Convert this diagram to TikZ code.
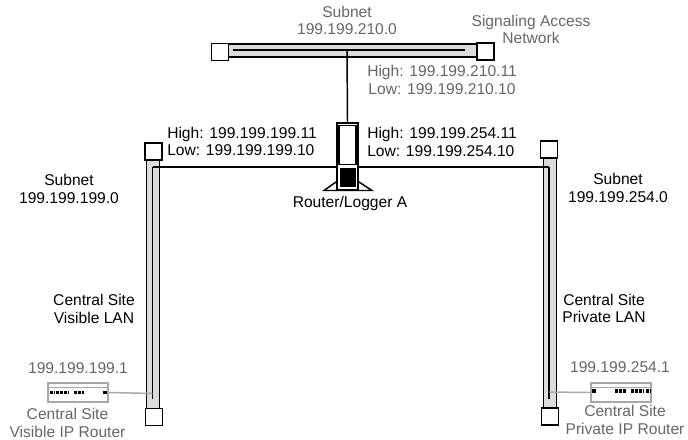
\documentclass[tikz,border=0pt]{standalone}
\usepackage{fontspec}
\setmainfont{Liberation Sans}
\usepackage{xcolor}
\usetikzlibrary{positioning}
\definecolor{labelgray}{HTML}{666666}
\definecolor{busgray}{HTML}{DCDCDC}
\definecolor{routergray}{HTML}{A8A8A8}

\begin{document}
\begin{tikzpicture}[
    x=0.75pt, y=-0.75pt,
    every node/.style={font=\fontsize{11.7}{13.2}\selectfont, inner sep=0pt},
    darklabel/.style={align=center, text=black},
    greylabel/.style={align=center, text=labelgray},
    addrlabel/.style={align=left, text=black},
    endcap/.style={draw=black, fill=white, line width=1.2pt, minimum width=13pt, minimum height=12.5pt},
    hbus/.style={draw=black, fill=busgray, line width=1.2pt, minimum height=9.5pt},
    vbus/.style={draw=black, fill=busgray, line width=1.2pt, minimum width=10pt},
    tower/.style={draw=black, fill=white, line width=1.5pt, minimum width=15.5pt},
    iprouter/.style={draw=routergray, fill=white, line width=1.2pt, minimum width=45pt, minimum height=14pt},
    wire/.style={draw=black, line width=1.1pt},
    greywire/.style={draw=routergray, line width=1.1pt},
    portrow/.style={line width=2.6pt, dash pattern=on 2.4pt off 0.5pt},
]
\useasboundingbox (0,0) rectangle (688,439);

% Bus bars
\node[hbus, minimum width=186.75pt] (topbus)   at (352.5,50.5) {};
\node[vbus, minimum height=188pt]   (leftbus)  at (153,283)    {};
\node[vbus, minimum height=188pt]   (rightbus) at (550,283)    {};

% Lines running inside the bus bars
\coordinate (topstart)  at (233,50);
\coordinate (topend)    at (465,50);
\coordinate (toptap)    at (347,50);
\coordinate (leftjoin)  at (152.5,167);
\coordinate (leftend)   at (152.5,399);
\coordinate (lefttap)   at (152.5,393.5);
\coordinate (rightjoin) at (549,167);
\coordinate (rightend)  at (549,399);
\coordinate (righttap)  at (549,392);
\draw[wire] (topstart)  -- (topend);
\draw[wire] (leftjoin)  -- (leftend);
\draw[wire] (rightjoin) -- (rightend);
\draw[wire] (leftjoin)  -- (rightjoin);

% End caps
\node[endcap] (topleftcap)     at (220,52)    {};
\node[endcap] (toprightcap)    at (485.5,51.5) {};
\node[endcap] (lefttopcap)     at (153.5,151.5) {};
\node[endcap] (leftbottomcap)  at (154,417)   {};
\node[endcap] (righttopcap)    at (549,149.5) {};
\node[endcap] (rightbottomcap) at (550,416.5) {};

% Router/Logger tower
\coordinate (footleft)  at (324,190.5);
\coordinate (footright) at (372,190.5);
\draw[wire, fill=white] (336,182) -- (footleft) -- (footright) -- (359,182) -- cycle;
\node[tower, minimum height=50pt] (towerbody) at (347.5,156.5) {};
\node[draw=black, fill=white, line width=1.2pt, minimum width=13pt, minimum height=29.5pt] (towertop) at (347.5,145) {};
\node[fill=black, minimum width=12pt, minimum height=14pt] (towerbottom) at (347.5,177.5) {};
\draw[wire] (toptap) -- (towerbody.north);

% IP routers
\node[iprouter] (leftrouter)  at (78,392.5)  {};
\node[iprouter] (rightrouter) at (621,392.5) {};
\draw[greywire] (leftrouter.east) -- (lefttap);
\draw[greywire] (rightrouter.west) -- (righttap);
\draw[greywire, line width=0.5pt] (48,387) -- (108,387);
\draw[greywire, line width=0.5pt] (591,387) -- (651,387);
\draw[portrow] (50,392.5) -- (54,392.5) (56,392.5) -- (69,392.5) (74,392.5) -- (84,392.5);
\draw[portrow] (615,391) -- (626,391) (631,391) -- (643,391) (646,391) -- (650,391);
\draw[line width=2.6pt] (103,392.5) -- (107,392.5);
\draw[line width=2.6pt] (592,391) -- (596,391);

% Labels
\node[greylabel] (topsubnet) at (347,20.5) {Subnet\\199.199.210.0};
\node[greylabel] (signaling) at (531,29.5) {Signaling Access\\Network};
\node[greylabel, anchor=west] (topaddr) at (367,80) {High: 199.199.210.11\\[0.6pt]Low: 199.199.210.10};
\node[addrlabel, anchor=west] (leftaddr)  at (167,141.5) {High: 199.199.199.11\\Low: 199.199.199.10};
\node[addrlabel, anchor=west] (rightaddr) at (367,142) {High: 199.199.254.11\\[0.6pt]Low: 199.199.254.10};
\node[darklabel] (routername) at (350,203.5) {Router/Logger A};
\node[darklabel] (leftsubnet)  at (69,189)   {Subnet\\199.199.199.0};
\node[darklabel] (rightsubnet) at (618,188)  {Subnet\\199.199.254.0};
\node[darklabel] (leftlan)     at (94,309)   {Central Site\\Visible LAN};
\node[darklabel] (rightlan)    at (604,308.5) {Central Site\\Private LAN};
\node[greylabel] (leftip)      at (78,368)   {199.199.199.1};
\node[greylabel] (rightip)     at (620,367)  {199.199.254.1};
\node[greylabel] (leftname)    at (67.5,423) {Central Site\\Visible IP Router};
\node[greylabel] (rightname)   at (625,420)  {Central Site\\Private IP Router};
\end{tikzpicture}
\end{document}
